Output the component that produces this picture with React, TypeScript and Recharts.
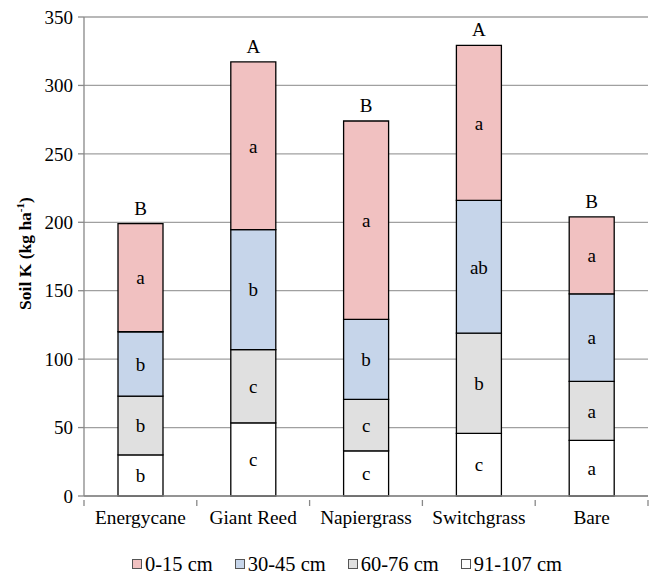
import React from 'react';
import { BarChart, Bar, XAxis, YAxis, CartesianGrid, LabelList, Label } from 'recharts';

const categories = ['Energycane', 'Giant Reed', 'Napiergrass', 'Switchgrass', 'Bare'];
const depth91_107 = [30, 53.5, 33, 45.7, 40.6];
const depth60_76 = [43, 53.5, 37.6, 73.3, 43.1];
const depth30_45 = [47, 87.6, 58.4, 97, 64];
const depth0_15 = [79, 122.6, 145, 113.2, 56.2];
const letters91_107 = ['b', 'c', 'c', 'c', 'a'];
const letters60_76 = ['b', 'c', 'c', 'b', 'a'];
const letters30_45 = ['b', 'b', 'b', 'ab', 'a'];
const letters0_15 = ['a', 'a', 'a', 'a', 'a'];
const totalLetters = ['B', 'A', 'B', 'A', 'B'];
const yTicks = [0, 50, 100, 150, 200, 250, 300, 350];

const seriesNames = ['0-15 cm', '30-45 cm', '60-76 cm', '91-107 cm'];
const seriesColors = ['#F1C1C1', '#C6D5EA', '#E0E0E0', '#FFFFFF'];

const data = categories.map((c, i) => ({
  name: c,
  d3: depth91_107[i],
  d2: depth60_76[i],
  d1: depth30_45[i],
  d0: depth0_15[i],
  l3: letters91_107[i],
  l2: letters60_76[i],
  l1: letters30_45[i],
  l0: letters0_15[i],
  sig: totalLetters[i],
}));

const FONT = "'Liberation Serif', Tinos, 'DejaVu Serif', serif";
const W = 649;
const H = 574;
const YW = 84;
const MR = 1;
const BAND = (W - YW - MR) / categories.length;

const XTick = (props: any) => {
  const { x, y, payload, index } = props;
  const left = x - BAND / 2;
  return (
    <g>
      <line x1={left} x2={left} y1={y - 4} y2={y + 2} stroke="#888" strokeWidth={1.3} />
      {index === categories.length - 1 && (
        <line x1={x + BAND / 2} x2={x + BAND / 2} y1={y - 4} y2={y + 2} stroke="#888" strokeWidth={1.3} />
      )}
      <text x={x} y={y + 20} textAnchor="middle" style={{ fontFamily: FONT }} fontSize={19.3} fill="#000">
        {payload.value}
      </text>
    </g>
  );
};

const YLabel = (props: any) => {
  const vb = props.viewBox || { x: 0, y: 17, width: 84, height: 479 };
  const cx = vb.x + 31;
  const cy = vb.y + vb.height / 2 - 3;
  return (
    <text
      x={cx}
      y={cy}
      transform={`rotate(-90, ${cx}, ${cy})`}
      textAnchor="middle"
      style={{ fontFamily: FONT }}
      fontSize={17.5}
      fontWeight="bold"
      fill="#000"
    >
      Soil K (kg ha
      <tspan fontSize={11} dy={-7}>-1</tspan>
      <tspan dy={7}>)</tspan>
    </text>
  );
};

const lblStyle = { fontFamily: FONT };
const legendOrder = [0, 1, 2, 3];

export default function App() {
  return (
    <div style={{ position: 'absolute', left: 0, top: 0, width: W, height: H, background: '#fff', fontFamily: FONT }}>
      <BarChart
        width={W}
        height={H}
        data={data}
        margin={{ top: 17, right: MR, bottom: 48, left: 0 }}
        barSize={45}
        style={{ fontFamily: FONT }}
      >
        <CartesianGrid vertical={false} stroke="#A0A0A0" strokeWidth={1.3} />
        <XAxis
          dataKey="name"
          height={30}
          tickLine={false}
          axisLine={{ stroke: '#888', strokeWidth: 1.3 }}
          tick={<XTick />}
          interval={0}
        />
        <YAxis
          width={YW}
          domain={[0, 350]}
          ticks={yTicks}
          interval={0}
          tickSize={6}
          tickMargin={5}
          tickLine={{ stroke: '#888', strokeWidth: 1.3 }}
          axisLine={{ stroke: '#888', strokeWidth: 1.3 }}
          tick={{ fontFamily: FONT, fontSize: 19, fill: '#000', style: lblStyle }}
        >
          <Label content={<YLabel />} position="insideLeft" />
        </YAxis>
        <Bar dataKey="d3" stackId="s" fill={seriesColors[3]} stroke="#000" strokeWidth={1.3} isAnimationActive={false}>
          <LabelList dataKey="l3" position="center" fontFamily={FONT} style={lblStyle} fontSize={19} fill="#000" />
        </Bar>
        <Bar dataKey="d2" stackId="s" fill={seriesColors[2]} stroke="#000" strokeWidth={1.3} isAnimationActive={false}>
          <LabelList dataKey="l2" position="center" fontFamily={FONT} style={lblStyle} fontSize={19} fill="#000" />
        </Bar>
        <Bar dataKey="d1" stackId="s" fill={seriesColors[1]} stroke="#000" strokeWidth={1.3} isAnimationActive={false}>
          <LabelList dataKey="l1" position="center" fontFamily={FONT} style={lblStyle} fontSize={19} fill="#000" />
        </Bar>
        <Bar dataKey="d0" stackId="s" fill={seriesColors[0]} stroke="#000" strokeWidth={1.3} isAnimationActive={false}>
          <LabelList dataKey="l0" position="center" fontFamily={FONT} style={lblStyle} fontSize={19} fill="#000" />
          <LabelList dataKey="sig" position="top" offset={9} fontFamily={FONT} style={lblStyle} fontSize={19} fill="#000" />
        </Bar>
      </BarChart>
      <div
        style={{
          position: 'absolute',
          left: 132,
          top: 553,
          display: 'flex',
          alignItems: 'center',
          fontFamily: FONT,
          fontSize: 20.5,
          lineHeight: '22px',
          color: '#000',
          whiteSpace: 'nowrap',
        }}
      >
        {legendOrder.map((i) => (
          <div key={i} style={{ display: 'flex', alignItems: 'center', marginRight: 22 }}>
            <div
              style={{
                width: 8,
                height: 8,
                background: seriesColors[i],
                border: '1px solid #555',
                marginRight: 3,
              }}
            />
            <span>{seriesNames[i]}</span>
          </div>
        ))}
      </div>
    </div>
  );
}
